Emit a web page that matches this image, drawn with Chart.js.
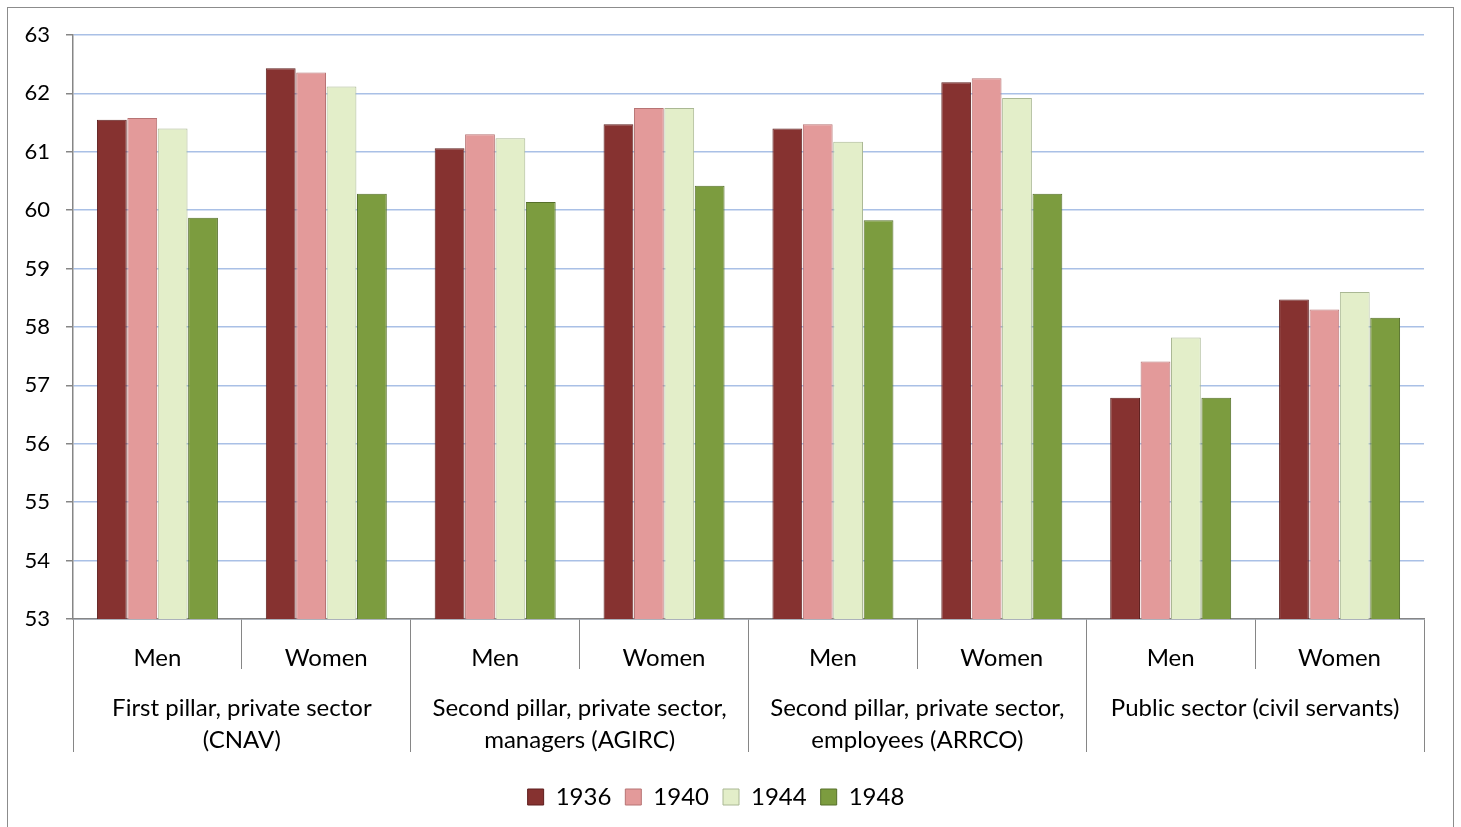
<!DOCTYPE html>
<html>
<head>
<meta charset="utf-8">
<script src="https://cdn.jsdelivr.net/npm/chart.js@4/dist/chart.umd.min.js"></script>
<style>
    html, body { margin: 0; padding: 0; background: #fff; overflow: hidden; }
    #wrap {
        position: absolute;
        left: 7px; top: 7px;
        width: 1447px; height: 830px;
        border: 1px solid #8c8c8c;
        box-sizing: border-box;
    }
</style>
</head>
<body>
<div id="wrap"><canvas id="ageChart"></canvas></div>
<script>
// Categories (sex) and pension schemes
const sexLabels = ['Men', 'Women', 'Men', 'Women', 'Men', 'Women', 'Men', 'Women'];
const schemeLabels = [
    ['First pillar, private sector', '(CNAV)'],
    ['Second pillar, private sector,', 'managers (AGIRC)'],
    ['Second pillar, private sector,', 'employees (ARRCO)'],
    ['Public sector (civil servants)']
];
const yTicks = [53, 54, 55, 56, 57, 58, 59, 60, 61, 62, 63];

// Average age by birth cohort
const cohorts = ['1936', '1940', '1944', '1948'];
const values1936 = [61.55, 62.43, 61.06, 61.47, 61.40, 62.19, 56.79, 58.47];
const values1940 = [61.58, 62.36, 61.30, 61.75, 61.47, 62.26, 57.41, 58.30];
const values1944 = [61.40, 62.12, 61.23, 61.75, 61.17, 61.92, 57.82, 58.60];
const values1948 = [59.87, 60.28, 60.14, 60.42, 59.83, 60.28, 56.79, 58.16];

const fills = ['#863230', '#e39a9a', '#e3eec9', '#7c9c3f'];
const edges = ['#5e1f1e', '#b77474', '#aab894', '#56702a'];

const FONT = 'Lato, "Open Sans", sans-serif';

document.addEventListener('DOMContentLoaded', () => {
    const ctx = document.getElementById('ageChart').getContext('2d');
    const series = [values1936, values1940, values1944, values1948];

    new Chart(ctx, {
        type: 'bar',
        data: {
            labels: sexLabels,
            datasets: series.map((vals, i) => ({
                label: cohorts[i],
                data: vals,
                backgroundColor: fills[i],
                borderColor: edges[i],
                borderWidth: 1,
                xAxisID: 'x',
                categoryPercentage: 0.72,
                barPercentage: 0.98
            }))
        },
        options: {
            responsive: true,
            maintainAspectRatio: false,
            animation: false,
            layout: { padding: { top: 27, right: 29, left: 0, bottom: 17 } },
            plugins: {
                tooltip: { enabled: false },
                legend: {
                    position: 'bottom',
                    labels: {
                        font: { family: FONT, size: 24 },
                        color: '#000',
                        boxWidth: 16,
                        boxHeight: 16,
                        padding: 14
                    }
                }
            },
            scales: {
                y: {
                    min: 53,
                    max: 63,
                    afterFit: s => { s.width = 65; },
                    afterBuildTicks: s => { s.ticks = yTicks.map(v => ({ value: v })); },
                    ticks: {
                        font: { family: FONT, size: 22, lineHeight: 1 },
                        color: '#000',
                        padding: 16
                    },
                    grid: {
                        color: '#a9c0e6',
                        lineWidth: 1.5,
                        tickColor: '#868686',
                        tickLength: 7
                    },
                    border: { color: '#868686', width: 1.5 }
                },
                x: {
                    weight: 0,
                    offset: true,
                    afterFit: s => { s.height = 50; },
                    ticks: {
                        font: { family: FONT, size: 24 },
                        color: '#000',
                        padding: -25
                    },
                    grid: {
                        offset: true,
                        drawOnChartArea: false,
                        color: '#868686',
                        tickLength: 50
                    },
                    border: { color: '#868686', width: 1.5 }
                },
                x2: {
                    type: 'category',
                    position: 'bottom',
                    weight: 1,
                    offset: true,
                    labels: schemeLabels,
                    afterFit: s => { s.height = 102; },
                    ticks: {
                        font: { family: FONT, size: 24, lineHeight: 1.35 },
                        color: '#000',
                        padding: -60
                    },
                    grid: {
                        offset: true,
                        drawOnChartArea: false,
                        color: '#868686',
                        tickLength: 83
                    },
                    border: { display: false }
                }
            }
        }
    });
});
</script>
</body>
</html>
